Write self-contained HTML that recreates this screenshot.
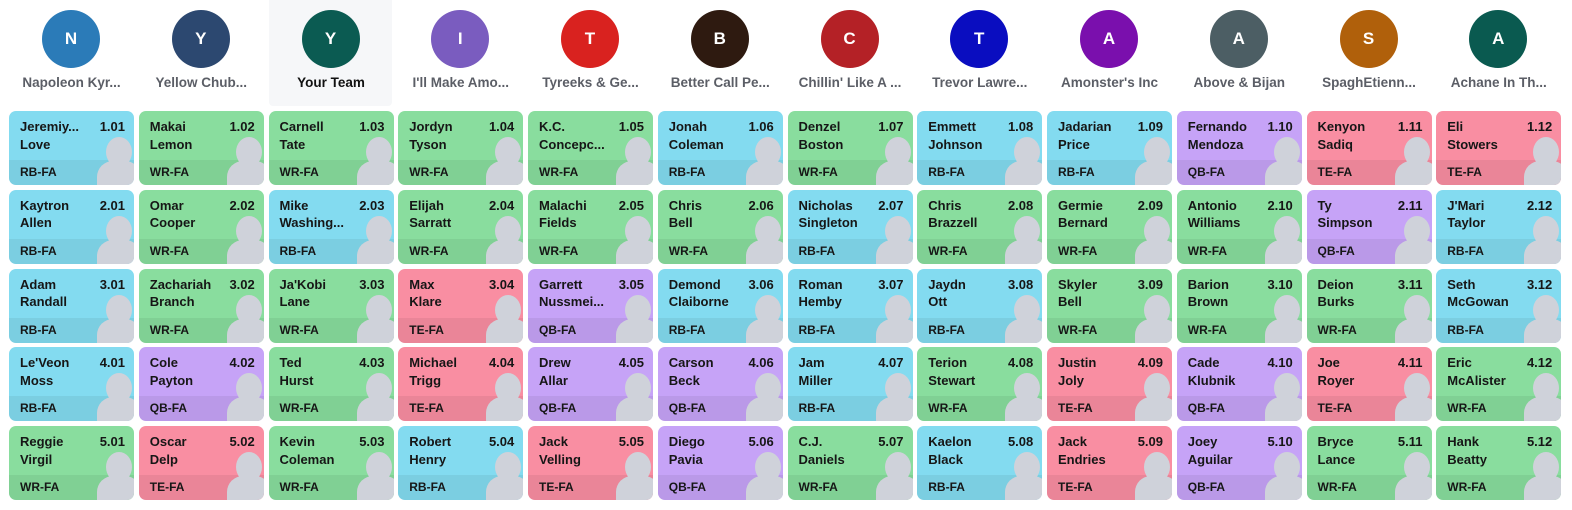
<!DOCTYPE html>
<html><head><meta charset="utf-8"><style>
*{margin:0;padding:0;box-sizing:border-box}
body{width:1572px;height:510px;background:#fff;font-family:"Liberation Sans",Arial,sans-serif;position:relative;overflow:hidden}
.hl{position:absolute;left:269px;top:0;width:123px;height:106px;background:#f6f7f9;border-radius:0 0 4px 4px}
.hd{position:absolute;top:0;left:9px;display:grid;grid-template-columns:repeat(12,125px);column-gap:4.75px}
.h{height:100px;position:relative;text-align:center}
.h i{position:absolute;left:33px;top:10px;width:58px;height:58px;border-radius:50%;color:#fff;font-style:normal;font-weight:bold;font-size:17px;line-height:58px}
.h span{position:absolute;left:0;right:0;top:75px;font-size:13.5px;color:#5b5e66;font-weight:bold;white-space:nowrap}
.h span.y{color:#111}
.g{position:absolute;left:9px;top:111px;display:grid;grid-template-columns:repeat(12,125px);grid-auto-rows:74px;column-gap:4.75px;row-gap:4.8px}
.c{position:relative;border-radius:7px;overflow:hidden;color:#161616;font-weight:bold}
.c::before{content:"";position:absolute;left:0;right:0;bottom:0;height:25px;background:rgba(0,0,0,.06)}
.s1{position:absolute;left:97px;top:26px;width:26px;height:30px;border-radius:50%;background:#cfd2da}
.s2{position:absolute;left:88px;top:50px;width:44px;height:40px;border-radius:16px 16px 0 0;background:#cfd2da}
.n{position:absolute;left:11px;top:7px;font-size:13px;line-height:17.5px;white-space:nowrap}
.p{position:absolute;right:9px;top:7px;font-size:13px;line-height:17.5px}
.f{position:absolute;left:11px;bottom:6px;font-size:12px}
.R{background:#83dbf0}.W{background:#89dd9e}.T{background:#f98ea2}.Q{background:#c6a3f7}
</style></head><body>
<div class="hl"></div>
<div class="hd">
<div class="h"><i style="background:#2b7bb8">N</i><span>Napoleon Kyr...</span></div>
<div class="h"><i style="background:#2c4870">Y</i><span>Yellow Chub...</span></div>
<div class="h"><i style="background:#0b5b52">Y</i><span class="y">Your Team</span></div>
<div class="h"><i style="background:#7a5cbf">I</i><span>I'll Make Amo...</span></div>
<div class="h"><i style="background:#d9221f">T</i><span>Tyreeks &amp; Ge...</span></div>
<div class="h"><i style="background:#2e1a10">B</i><span>Better Call Pe...</span></div>
<div class="h"><i style="background:#b42126">C</i><span>Chillin' Like A ...</span></div>
<div class="h"><i style="background:#0a0dc0">T</i><span>Trevor Lawre...</span></div>
<div class="h"><i style="background:#7a0fad">A</i><span>Amonster's Inc</span></div>
<div class="h"><i style="background:#4c5e64">A</i><span>Above &amp; Bijan</span></div>
<div class="h"><i style="background:#b0600b">S</i><span>SpaghEtienn...</span></div>
<div class="h"><i style="background:#0a5a50">A</i><span>Achane In Th...</span></div>
</div>
<div class="g">
<div class="c R"><b class="s1"></b><b class="s2"></b><div class="n">Jeremiy...<br>Love</div><div class="p">1.01</div><div class="f">RB-FA</div></div>
<div class="c W"><b class="s1"></b><b class="s2"></b><div class="n">Makai<br>Lemon</div><div class="p">1.02</div><div class="f">WR-FA</div></div>
<div class="c W"><b class="s1"></b><b class="s2"></b><div class="n">Carnell<br>Tate</div><div class="p">1.03</div><div class="f">WR-FA</div></div>
<div class="c W"><b class="s1"></b><b class="s2"></b><div class="n">Jordyn<br>Tyson</div><div class="p">1.04</div><div class="f">WR-FA</div></div>
<div class="c W"><b class="s1"></b><b class="s2"></b><div class="n">K.C.<br>Concepc...</div><div class="p">1.05</div><div class="f">WR-FA</div></div>
<div class="c R"><b class="s1"></b><b class="s2"></b><div class="n">Jonah<br>Coleman</div><div class="p">1.06</div><div class="f">RB-FA</div></div>
<div class="c W"><b class="s1"></b><b class="s2"></b><div class="n">Denzel<br>Boston</div><div class="p">1.07</div><div class="f">WR-FA</div></div>
<div class="c R"><b class="s1"></b><b class="s2"></b><div class="n">Emmett<br>Johnson</div><div class="p">1.08</div><div class="f">RB-FA</div></div>
<div class="c R"><b class="s1"></b><b class="s2"></b><div class="n">Jadarian<br>Price</div><div class="p">1.09</div><div class="f">RB-FA</div></div>
<div class="c Q"><b class="s1"></b><b class="s2"></b><div class="n">Fernando<br>Mendoza</div><div class="p">1.10</div><div class="f">QB-FA</div></div>
<div class="c T"><b class="s1"></b><b class="s2"></b><div class="n">Kenyon<br>Sadiq</div><div class="p">1.11</div><div class="f">TE-FA</div></div>
<div class="c T"><b class="s1"></b><b class="s2"></b><div class="n">Eli<br>Stowers</div><div class="p">1.12</div><div class="f">TE-FA</div></div>

<div class="c R"><b class="s1"></b><b class="s2"></b><div class="n">Kaytron<br>Allen</div><div class="p">2.01</div><div class="f">RB-FA</div></div>
<div class="c W"><b class="s1"></b><b class="s2"></b><div class="n">Omar<br>Cooper</div><div class="p">2.02</div><div class="f">WR-FA</div></div>
<div class="c R"><b class="s1"></b><b class="s2"></b><div class="n">Mike<br>Washing...</div><div class="p">2.03</div><div class="f">RB-FA</div></div>
<div class="c W"><b class="s1"></b><b class="s2"></b><div class="n">Elijah<br>Sarratt</div><div class="p">2.04</div><div class="f">WR-FA</div></div>
<div class="c W"><b class="s1"></b><b class="s2"></b><div class="n">Malachi<br>Fields</div><div class="p">2.05</div><div class="f">WR-FA</div></div>
<div class="c W"><b class="s1"></b><b class="s2"></b><div class="n">Chris<br>Bell</div><div class="p">2.06</div><div class="f">WR-FA</div></div>
<div class="c R"><b class="s1"></b><b class="s2"></b><div class="n">Nicholas<br>Singleton</div><div class="p">2.07</div><div class="f">RB-FA</div></div>
<div class="c W"><b class="s1"></b><b class="s2"></b><div class="n">Chris<br>Brazzell</div><div class="p">2.08</div><div class="f">WR-FA</div></div>
<div class="c W"><b class="s1"></b><b class="s2"></b><div class="n">Germie<br>Bernard</div><div class="p">2.09</div><div class="f">WR-FA</div></div>
<div class="c W"><b class="s1"></b><b class="s2"></b><div class="n">Antonio<br>Williams</div><div class="p">2.10</div><div class="f">WR-FA</div></div>
<div class="c Q"><b class="s1"></b><b class="s2"></b><div class="n">Ty<br>Simpson</div><div class="p">2.11</div><div class="f">QB-FA</div></div>
<div class="c R"><b class="s1"></b><b class="s2"></b><div class="n">J'Mari<br>Taylor</div><div class="p">2.12</div><div class="f">RB-FA</div></div>

<div class="c R"><b class="s1"></b><b class="s2"></b><div class="n">Adam<br>Randall</div><div class="p">3.01</div><div class="f">RB-FA</div></div>
<div class="c W"><b class="s1"></b><b class="s2"></b><div class="n">Zachariah<br>Branch</div><div class="p">3.02</div><div class="f">WR-FA</div></div>
<div class="c W"><b class="s1"></b><b class="s2"></b><div class="n">Ja'Kobi<br>Lane</div><div class="p">3.03</div><div class="f">WR-FA</div></div>
<div class="c T"><b class="s1"></b><b class="s2"></b><div class="n">Max<br>Klare</div><div class="p">3.04</div><div class="f">TE-FA</div></div>
<div class="c Q"><b class="s1"></b><b class="s2"></b><div class="n">Garrett<br>Nussmei...</div><div class="p">3.05</div><div class="f">QB-FA</div></div>
<div class="c R"><b class="s1"></b><b class="s2"></b><div class="n">Demond<br>Claiborne</div><div class="p">3.06</div><div class="f">RB-FA</div></div>
<div class="c R"><b class="s1"></b><b class="s2"></b><div class="n">Roman<br>Hemby</div><div class="p">3.07</div><div class="f">RB-FA</div></div>
<div class="c R"><b class="s1"></b><b class="s2"></b><div class="n">Jaydn<br>Ott</div><div class="p">3.08</div><div class="f">RB-FA</div></div>
<div class="c W"><b class="s1"></b><b class="s2"></b><div class="n">Skyler<br>Bell</div><div class="p">3.09</div><div class="f">WR-FA</div></div>
<div class="c W"><b class="s1"></b><b class="s2"></b><div class="n">Barion<br>Brown</div><div class="p">3.10</div><div class="f">WR-FA</div></div>
<div class="c W"><b class="s1"></b><b class="s2"></b><div class="n">Deion<br>Burks</div><div class="p">3.11</div><div class="f">WR-FA</div></div>
<div class="c R"><b class="s1"></b><b class="s2"></b><div class="n">Seth<br>McGowan</div><div class="p">3.12</div><div class="f">RB-FA</div></div>

<div class="c R"><b class="s1"></b><b class="s2"></b><div class="n">Le'Veon<br>Moss</div><div class="p">4.01</div><div class="f">RB-FA</div></div>
<div class="c Q"><b class="s1"></b><b class="s2"></b><div class="n">Cole<br>Payton</div><div class="p">4.02</div><div class="f">QB-FA</div></div>
<div class="c W"><b class="s1"></b><b class="s2"></b><div class="n">Ted<br>Hurst</div><div class="p">4.03</div><div class="f">WR-FA</div></div>
<div class="c T"><b class="s1"></b><b class="s2"></b><div class="n">Michael<br>Trigg</div><div class="p">4.04</div><div class="f">TE-FA</div></div>
<div class="c Q"><b class="s1"></b><b class="s2"></b><div class="n">Drew<br>Allar</div><div class="p">4.05</div><div class="f">QB-FA</div></div>
<div class="c Q"><b class="s1"></b><b class="s2"></b><div class="n">Carson<br>Beck</div><div class="p">4.06</div><div class="f">QB-FA</div></div>
<div class="c R"><b class="s1"></b><b class="s2"></b><div class="n">Jam<br>Miller</div><div class="p">4.07</div><div class="f">RB-FA</div></div>
<div class="c W"><b class="s1"></b><b class="s2"></b><div class="n">Terion<br>Stewart</div><div class="p">4.08</div><div class="f">WR-FA</div></div>
<div class="c T"><b class="s1"></b><b class="s2"></b><div class="n">Justin<br>Joly</div><div class="p">4.09</div><div class="f">TE-FA</div></div>
<div class="c Q"><b class="s1"></b><b class="s2"></b><div class="n">Cade<br>Klubnik</div><div class="p">4.10</div><div class="f">QB-FA</div></div>
<div class="c T"><b class="s1"></b><b class="s2"></b><div class="n">Joe<br>Royer</div><div class="p">4.11</div><div class="f">TE-FA</div></div>
<div class="c W"><b class="s1"></b><b class="s2"></b><div class="n">Eric<br>McAlister</div><div class="p">4.12</div><div class="f">WR-FA</div></div>

<div class="c W"><b class="s1"></b><b class="s2"></b><div class="n">Reggie<br>Virgil</div><div class="p">5.01</div><div class="f">WR-FA</div></div>
<div class="c T"><b class="s1"></b><b class="s2"></b><div class="n">Oscar<br>Delp</div><div class="p">5.02</div><div class="f">TE-FA</div></div>
<div class="c W"><b class="s1"></b><b class="s2"></b><div class="n">Kevin<br>Coleman</div><div class="p">5.03</div><div class="f">WR-FA</div></div>
<div class="c R"><b class="s1"></b><b class="s2"></b><div class="n">Robert<br>Henry</div><div class="p">5.04</div><div class="f">RB-FA</div></div>
<div class="c T"><b class="s1"></b><b class="s2"></b><div class="n">Jack<br>Velling</div><div class="p">5.05</div><div class="f">TE-FA</div></div>
<div class="c Q"><b class="s1"></b><b class="s2"></b><div class="n">Diego<br>Pavia</div><div class="p">5.06</div><div class="f">QB-FA</div></div>
<div class="c W"><b class="s1"></b><b class="s2"></b><div class="n">C.J.<br>Daniels</div><div class="p">5.07</div><div class="f">WR-FA</div></div>
<div class="c R"><b class="s1"></b><b class="s2"></b><div class="n">Kaelon<br>Black</div><div class="p">5.08</div><div class="f">RB-FA</div></div>
<div class="c T"><b class="s1"></b><b class="s2"></b><div class="n">Jack<br>Endries</div><div class="p">5.09</div><div class="f">TE-FA</div></div>
<div class="c Q"><b class="s1"></b><b class="s2"></b><div class="n">Joey<br>Aguilar</div><div class="p">5.10</div><div class="f">QB-FA</div></div>
<div class="c W"><b class="s1"></b><b class="s2"></b><div class="n">Bryce<br>Lance</div><div class="p">5.11</div><div class="f">WR-FA</div></div>
<div class="c W"><b class="s1"></b><b class="s2"></b><div class="n">Hank<br>Beatty</div><div class="p">5.12</div><div class="f">WR-FA</div></div>
</div>
</body></html>
